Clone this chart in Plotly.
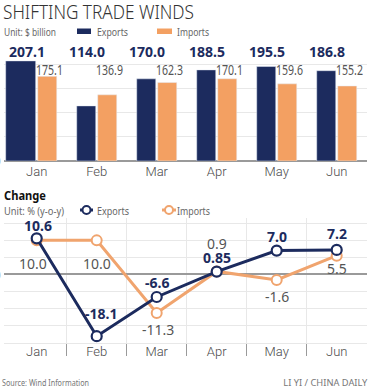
import plotly.graph_objects as go

# ---------------- data ----------------
months = ["Jan", "Feb", "Mar", "Apr", "May", "Jun"]
exports_bn = [207.1, 114.0, 170.0, 188.5, 195.5, 186.8]
imports_bn = [175.1, 136.9, 162.3, 170.1, 159.6, 155.2]
exports_chg = [10.6, -18.1, -6.6, 0.85, 7.0, 7.2]
imports_chg = [10.0, 10.0, -11.3, 0.9, -1.6, 5.5]
export_chg_labels = ["10.6", "-18.1", "-6.6", "0.85", "7.0", "7.2"]
import_chg_labels = ["10.0", "10.0", "-11.3", "0.9", "-1.6", "5.5"]

# ---------------- style ----------------
W, H = 368, 391
NAVY = "#1c2b5e"
ORANGE = "#f3a062"
ORANGE_LINE = "#f0a46e"
GRID = "#e8e8e8"
AXIS = "#9a9a9a"
TXT = "#4a4a4a"
COND = "Noto Sans"
LIGHT = "Roboto, Lato, sans-serif"

xpos = list(range(len(months)))


def py(px):
    return 1 - px / H


def pxx(px):
    return px / W


x_dom = [3.7 / W, 366.7 / W]
x_rng = [-0.55, 5.5]

fig = go.Figure()

# bars
exp_width = [0.5] + [0.317] * 5
exp_offset = [-0.517] + [-0.333] * 5
fig.add_trace(go.Bar(x=xpos, y=exports_bn, marker_color=NAVY, width=exp_width,
                     offset=exp_offset, xaxis="x", yaxis="y", showlegend=False,
                     hoverinfo="skip"))
fig.add_trace(go.Bar(x=xpos, y=imports_bn, marker_color=ORANGE, width=[0.317] * 6,
                     offset=[0.017] * 6, xaxis="x", yaxis="y", showlegend=False,
                     hoverinfo="skip"))

# lines
fig.add_trace(go.Scatter(x=xpos, y=imports_chg, mode="lines+markers",
                         line=dict(color=ORANGE_LINE, width=3),
                         marker=dict(size=10, color="white",
                                     line=dict(color=ORANGE_LINE, width=2)),
                         xaxis="x2", yaxis="y2", showlegend=False, hoverinfo="skip"))
fig.add_trace(go.Scatter(x=xpos, y=exports_chg, mode="lines+markers",
                         line=dict(color=NAVY, width=3),
                         marker=dict(size=10, color="white",
                                     line=dict(color=NAVY, width=2.2)),
                         xaxis="x2", yaxis="y2", showlegend=False, hoverinfo="skip"))

annotations = []

# bar value labels
for i, v in enumerate(exports_bn):
    annotations.append(dict(x=i - 0.167, y=py(51), xref="x", yref="paper",
                            text=f"{v:.1f}", showarrow=False, xanchor="center",
                            yanchor="middle",
                            font=dict(family=COND, size=14, color=NAVY, weight="bold")))
for i, v in enumerate(imports_bn):
    annotations.append(dict(x=i, y=py(70), xref="x", yref="paper",
                            text=f"{v:.1f}", showarrow=False, xanchor="left", align="left",
                            yanchor="middle", xshift=-3,
                            font=dict(family=f"{COND}, fitw27", size=14, color="#555555")))

# line value labels
exp_shift = [13, 23, 14, 14, 14, 16]
imp_shift = [-23, -23, -16, 28, -17, -13]
imp_xshift = [-4, 0, 1, 0, 0, 0]
exp_xshift = [1, 4, 0, 0, 0, 0]
for i, v in enumerate(exports_chg):
    annotations.append(dict(x=i, y=v, xref="x2", yref="y2", text=export_chg_labels[i],
                            showarrow=False, xanchor="center", yanchor="middle",
                            yshift=exp_shift[i], xshift=exp_xshift[i],
                            font=dict(family=COND, size=14, color=NAVY, weight="bold")))
for i, v in enumerate(imports_chg):
    annotations.append(dict(x=i, y=v, xref="x2", yref="y2", text=import_chg_labels[i],
                            showarrow=False, xanchor="center", yanchor="middle",
                            yshift=imp_shift[i], xshift=imp_xshift[i],
                            font=dict(family=COND, size=14, color="#555555")))


# titles and texts (fit = target text width in px, applied after rendering)
def txt(x, y, s, size, color, anchor="left", weight="normal", fit=None):
    fam = COND if fit is None else f"{COND}, fitw{fit}"
    return dict(x=pxx(x), y=py(y), xref="paper", yref="paper", text=s,
                showarrow=False, xanchor=anchor, align=anchor, yanchor="middle",
                xshift=(-3 if anchor == "left" else 3),
                font=dict(family=fam, size=size, color=color, weight=weight))


annotations += [
    txt(4, 12, "SHIFTING TRADE WINDS", 20, "#333333", weight=300, fit=191),
    txt(5, 31, "Unit: $ billion", 11, "#666666", fit=52),
    txt(97.5, 31, "Exports", 11, "#666666", fit=31),
    txt(177.5, 31, "Imports", 11, "#666666", fit=32),
    txt(5, 195, "Change", 13, "#111111", weight="bold", fit=42),
    txt(5, 210, "Unit: % (y-o-y)", 11, "#666666", fit=60),
    txt(97.5, 210, "Exports", 11, "#666666", fit=32),
    txt(177.5, 210, "Imports", 11, "#666666", fit=33),
    txt(3.3, 382, "Source: Wind Information", 9, "#777777", fit=87),
    txt(366.7, 382, "LI YI / CHINA DAILY", 9, "#777777", anchor="right", fit=84),
    txt(0, 161, "0", 10, "#999999", anchor="right"),
    txt(0, 274.5, "0", 10, "#999999", anchor="right"),
]

shapes = [
    # bar legend swatches
    dict(type="rect", xref="paper", yref="paper", x0=pxx(77), x1=pxx(91),
         y0=py(34), y1=py(28.5), fillcolor=NAVY, line_width=0),
    dict(type="rect", xref="paper", yref="paper", x0=pxx(157), x1=pxx(172),
         y0=py(34), y1=py(28.5), fillcolor=ORANGE, line_width=0),
    # line legend symbols
    dict(type="line", xref="paper", yref="paper", x0=pxx(80), x1=pxx(93),
         y0=py(210), y1=py(210), line=dict(color=NAVY, width=3)),
    dict(type="circle", xref="paper", yref="paper", x0=pxx(82.5), x1=pxx(90.5),
         y0=py(214), y1=py(206), fillcolor="white", line=dict(color=NAVY, width=2)),
    dict(type="line", xref="paper", yref="paper", x0=pxx(162), x1=pxx(176),
         y0=py(210), y1=py(210), line=dict(color=ORANGE_LINE, width=3)),
    dict(type="circle", xref="paper", yref="paper", x0=pxx(165), x1=pxx(173),
         y0=py(214), y1=py(206), fillcolor="white", line=dict(color=ORANGE_LINE, width=2)),
]

fig.update_layout(
    width=W, height=H,
    margin=dict(l=0, r=0, t=0, b=0),
    paper_bgcolor="white", plot_bgcolor="white",
    barmode="overlay",
    showlegend=False,
    annotations=annotations,
    shapes=shapes,
    xaxis=dict(domain=x_dom, range=x_rng, anchor="y", tickmode="array",
               tickvals=xpos, ticktext=months, showgrid=False, zeroline=False,
               showline=False, ticks="", ticklabelstandoff=1,
               tickfont=dict(family=LIGHT, size=13, color=TXT, weight=300)),
    yaxis=dict(domain=[py(161), py(47.4)], range=[0, 235], dtick=50,
               showgrid=True, gridcolor=GRID, gridwidth=1, showticklabels=False,
               zeroline=True, zerolinecolor=AXIS, zerolinewidth=2, ticks=""),
    xaxis2=dict(domain=x_dom, range=x_rng, anchor="y2", tickmode="array",
                tickvals=xpos, ticktext=months, showgrid=False, zeroline=False,
                showline=True, linecolor=GRID, linewidth=1, ticks="",
                ticklabelstandoff=-3,
                minor=dict(tickmode="array", tickvals=[0.5, 1.5, 2.5, 3.5, 4.5],
                           showgrid=True, gridcolor=GRID, gridwidth=1,
                           ticks="outside", ticklen=12, tickcolor="#9a9a9a", tickwidth=1),
                tickfont=dict(family=LIGHT, size=13, color=TXT, weight=300)),
    yaxis2=dict(domain=[py(342.7), py(218.2)], range=[-20, 16.5], dtick=5,
                showgrid=True, gridcolor=GRID, gridwidth=1, showticklabels=False,
                zeroline=True, zerolinecolor=AXIS, zerolinewidth=2, ticks=""),
)

post = """
document.body.style.margin = '0';
var gd = document.getElementById('{plot_id}');
gd.querySelectorAll('text').forEach(function (t) {
  var ff = t.style.fontFamily || '';
  if (ff.indexOf('Noto Sans') >= 0) { t.style.fontStretch = 'condensed'; }
  var m = ff.match(/fitw(\\d+)/);
  if (m) {
    t.setAttribute('textLength', m[1]);
    t.setAttribute('lengthAdjust', 'spacingAndGlyphs');
  }
});
"""

fig.write_html("out.html", post_script=post, config={"displayModeBar": False})
